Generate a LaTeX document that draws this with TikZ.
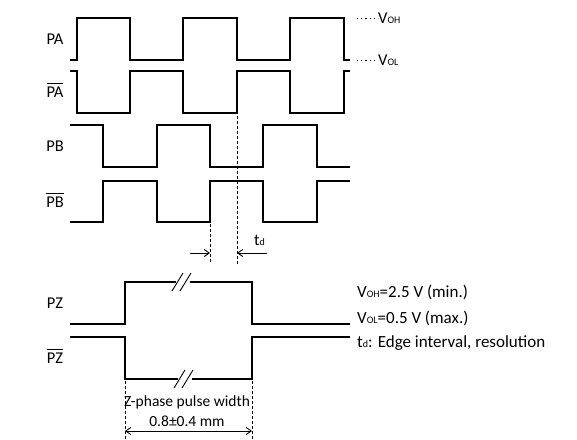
\documentclass[tikz,border=0pt]{standalone}
\usepackage{fontspec}
\setmainfont{Carlito}
\usetikzlibrary{arrows.meta}
\newcommand{\sbs}[1]{{\fontsize{10}{10}\selectfont #1}}
\newcommand{\ovl}[1]{$\overline{\mbox{\rule{0pt}{12.5pt}#1}}$}
\begin{document}
\begin{tikzpicture}[x=1pt,y=-1pt,
  sig/.style={line width=1.4pt,line join=miter},
  guide/.style={dash pattern=on 3pt off 2pt,line width=0.6pt},
  dots/.style={dash pattern=on 1.2pt off 3pt,line width=0.9pt},
  lbl/.style={font=\fontsize{16.5}{16.5}\selectfont,inner sep=0pt},
  txt/.style={font=\fontsize{17}{17}\selectfont,inner sep=0pt,anchor=west},
  meas/.style={line width=0.9pt,-{Straight Barb[length=5pt,width=7pt]}}]
\useasboundingbox (0,0) rectangle (577,439);
% labels
\node[lbl] (la) at (55,39) {PA};
\node[lbl] (lab) at (55,90) {\ovl{PA}};
\node[lbl] (lb) at (55,146) {PB};
\node[lbl] (lbb) at (55,200) {\ovl{PB}};
\node[lbl] (lz) at (55,303) {PZ};
\node[lbl] (lzb) at (55,356) {\ovl{PZ}};
% PA
\draw[sig] (70,60) -- (77,60) -- (77,18) -- (130,18) -- (130,60) -- (183,60) -- (183,18) -- (237,18) -- (237,60) -- (290,60) -- (290,18) -- (344,18) -- (344,60) -- (350,60);
% PA bar
\draw[sig] (70,71) -- (77,71) -- (77,113) -- (130,113) -- (130,71) -- (183,71) -- (183,113) -- (237,113) -- (237,71) -- (290,71) -- (290,113) -- (344,113) -- (344,71) -- (350,71);
% PB
\draw[sig] (70,125) -- (103,125) -- (103,167) -- (157,167) -- (157,125) -- (210,125) -- (210,167) -- (263,167) -- (263,125) -- (317,125) -- (317,167) -- (350,167);
% PB bar
\draw[sig] (70,222) -- (103,222) -- (103,181) -- (157,181) -- (157,222) -- (210,222) -- (210,181) -- (263,181) -- (263,222) -- (317,222) -- (317,181) -- (350,181);
% VOH / VOL
\coordinate (voh) at (357,18);
\coordinate (vol) at (357,60);
\node[txt,font=\fontsize{16.5}{16.5}\selectfont] (tvoh) at (378,18) {V\sbs{OH}};
\node[txt,font=\fontsize{16.5}{16.5}\selectfont] (tvol) at (378,60) {V\sbs{OL}};
\draw[dots] (voh) -- (tvoh.west);
\draw[dots] (vol) -- (tvol.west);
% td guides
\coordinate (g1t) at (237,116);
\coordinate (g1b) at (237,265);
\coordinate (g2t) at (210,224);
\coordinate (g2b) at (210,262);
\draw[guide] (g1t) -- (g1b);
\draw[guide] (g2t) -- (g2b);
\coordinate (a1s) at (190,253);
\coordinate (a1e) at (210,253);
\coordinate (a2s) at (267,253);
\coordinate (a2e) at (237,253);
\draw[meas] (a1s) -- (a1e);
\draw[meas] (a2s) -- (a2e);
\node[lbl,anchor=base west] (td) at (254,245) {t\sbs{d}};
% PZ
\draw[sig] (70,324) -- (125,324) -- (125,282) -- (252,282) -- (252,324) -- (350,324);
\draw[sig] (70,337) -- (125,337) -- (125,379) -- (252,379) -- (252,337) -- (350,337);
% break marks
\fill[white] (176,277) rectangle (190,287);
\draw[line width=0.9pt] (172,291) -- (183,273) (180,291) -- (191,273);
\fill[white] (178,374) rectangle (192,384);
\draw[line width=0.9pt] (174,388) -- (185,370) (182,388) -- (193,370);
% pulse width
\coordinate (p1t) at (125,381);
\coordinate (p1b) at (125,439);
\coordinate (p2t) at (252,381);
\coordinate (p2b) at (252,439);
\draw[guide] (p1t) -- (p1b);
\draw[guide] (p2t) -- (p2b);
\coordinate (pa) at (125,431);
\coordinate (pb) at (252,431);
\draw[line width=0.9pt,{Straight Barb[length=5pt,width=7pt]}-{Straight Barb[length=5pt,width=7pt]}] (pa) -- (pb);
\node[lbl,font=\fontsize{15.5}{15.5}\selectfont] (zp) at (187,402) {Z-phase pulse width};
\node[lbl,font=\fontsize{15.5}{15.5}\selectfont] (zv) at (187,421) {0.8±0.4 mm};
% notes
\node[txt] (n1) at (357,292) {V\sbs{OH}=2.5 V (min.)};
\node[txt] (n2) at (357,318) {V\sbs{OL}=0.5 V (max.)};
\node[txt] (n3) at (357,343) {t\sbs{d}: Edge interval, resolution};
\end{tikzpicture}
\end{document}
